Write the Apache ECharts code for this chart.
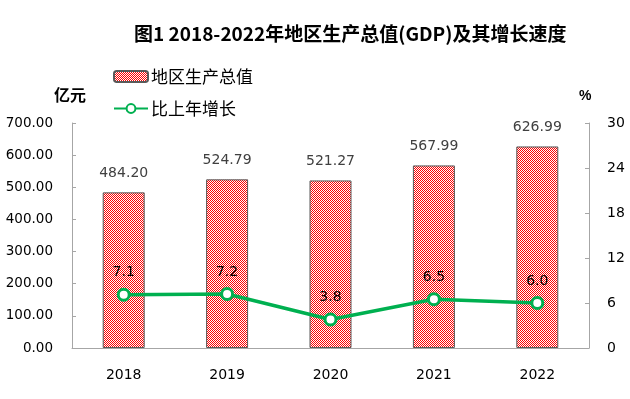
<!DOCTYPE html>
<html>
<head>
<meta charset="utf-8">
<script src="https://cdn.jsdelivr.net/npm/echarts@6/dist/echarts.min.js"></script>
<style>
  html, body { margin: 0; padding: 0; background: #fff; }
  #chart { width: 630px; height: 399px; }
</style>
</head>
<body>
<div id="chart"></div>
<script>
const years = ['2018', '2019', '2020', '2021', '2022']
const gdp = [484.20, 524.79, 521.27, 567.99, 626.99]
const growth = [7.1, 7.2, 3.8, 6.5, 6.0]

// red/white 1px checker fill like the excel bars
function checker() {
  const c = document.createElement('canvas')
  c.width = 4
  c.height = 4
  const ctx = c.getContext('2d')
  const img = ctx.createImageData(4, 4)
  for (let y = 0; y < 4; y++) {
    for (let x = 0; x < 4; x++) {
      const i = (y * 4 + x) * 4
      const red = (x + y) % 2 === 0
      img.data[i] = 255
      img.data[i + 1] = red ? 0 : 255
      img.data[i + 2] = red ? 0 : 255
      img.data[i + 3] = 255
    }
  }
  ctx.putImageData(img, 0, 0)
  return c
}

const cjk = '"Noto Sans CJK SC", sans-serif'
const chart = echarts.init(document.getElementById('chart'))

const option = {
  animation: false,
  title: {
    text: '图1 2018-2022年地区生产总值(GDP)及其增长速度',
    left: 129,
    top: 19,
    textStyle: { fontSize: 19, fontWeight: 'bold', color: '#000', fontFamily: cjk }
  },
  legend: {
    orient: 'vertical',
    left: 108,
    top: 63,
    itemGap: 15,
    itemWidth: 34,
    itemHeight: 11,
    textStyle: { fontSize: 17, color: '#000', fontFamily: cjk, padding: [0, 0, 0, -2] },
    data: ['地区生产总值', '比上年增长']
  },
  grid: { left: 72, right: 41, top: 123, bottom: 51 },
  xAxis: {
    type: 'category',
    data: years,
    axisLine: { lineStyle: { color: '#a6a6a6' } },
    axisTick: { inside: true, length: 5, lineStyle: { color: '#a6a6a6' } },
    axisLabel: { fontSize: 14, color: '#000', margin: 20, fontFamily: 'DejaVu Sans' }
  },
  yAxis: [{
    type: 'value',
    min: 0,
    max: 700,
    interval: 100,
    name: '亿元',
    nameLocation: 'end',
    nameGap: 20,
    nameTextStyle: { fontSize: 16, fontWeight: 'bold', color: '#000', fontFamily: cjk, align: 'center', padding: [0, 4, 0, 0] },
    axisLine: { show: true, lineStyle: { color: '#a6a6a6' } },
    axisTick: { show: true, inside: true, length: 4, lineStyle: { color: '#a6a6a6' } },
    splitLine: { show: false },
    axisLabel: { fontSize: 13.5, color: '#000', margin: 19, fontFamily: 'DejaVu Sans', formatter: v => v.toFixed(2) }
  }, {
    type: 'value',
    min: 0,
    max: 30,
    interval: 6,
    name: '%',
    nameGap: 20,
    nameTextStyle: { fontSize: 14, fontWeight: 'bold', color: '#000', align: 'left', padding: [0, 0, 0, -10] },
    axisLine: { show: true, lineStyle: { color: '#a6a6a6' } },
    axisTick: { show: true, inside: true, length: 4, lineStyle: { color: '#a6a6a6' } },
    splitLine: { show: false },
    axisLabel: { fontSize: 14, color: '#000', margin: 18, fontFamily: 'DejaVu Sans' }
  }],
  series: [{
    name: '地区生产总值',
    type: 'bar',
    data: gdp,
    barWidth: 42,
    itemStyle: {
      color: { image: checker(), repeat: 'repeat' },
      borderColor: '#595959',
      borderWidth: 1
    },
    label: {
      show: true,
      position: 'top',
      distance: 12,
      fontSize: 14,
      color: '#404040',
      fontFamily: 'DejaVu Sans',
      formatter: p => p.value.toFixed(2)
    }
  }, {
    name: '比上年增长',
    type: 'line',
    yAxisIndex: 1,
    data: growth,
    symbol: 'circle',
    symbolSize: 11,
    lineStyle: { color: '#00b050', width: 3.5 },
    itemStyle: { color: '#ffffff', borderColor: '#00b050', borderWidth: 3 },
    label: {
      show: true,
      position: 'top',
      distance: 8,
      fontSize: 14,
      color: '#000',
      fontFamily: 'DejaVu Sans',
      formatter: p => p.value.toFixed(1)
    }
  }]
}
chart.setOption(option)
</script>
</body>
</html>
